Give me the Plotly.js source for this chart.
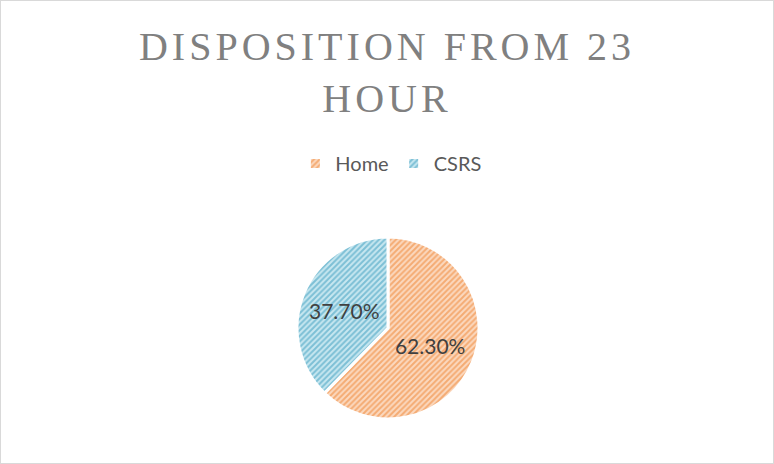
<!DOCTYPE html>
<html>
<head>
<meta charset="utf-8">
<script src="https://cdn.plot.ly/plotly-3.0.1.min.js"></script>
<style>
  html, body { margin: 0; padding: 0; background: #fff; }
  #chart { width: 772px; height: 462px; border: 1px solid #d9d9d9; }
  #chart .gtitle { letter-spacing: 4px; }
</style>
</head>
<body>
<div id="chart"></div>
<script>
const categories = ['Home', 'CSRS'];
const values = [62.3, 37.7];
const fgColors = ['#EE7E28', '#3197BA'];
const bgColors = ['#FBD9BF', '#C8E7F0'];

const W = 772, H = 462;
const cx = 387, cy = 327, r = 91;

const trace = {
  type: 'pie',
  labels: categories,
  values: values,
  sort: false,
  direction: 'clockwise',
  rotation: 0,
  texttemplate: '%{percent:.2%}',
  textposition: 'inside',
  insidetextorientation: 'horizontal',
  textfont: { family: 'Lato, "Open Sans", sans-serif', size: 21, color: '#404040' },
  hoverinfo: 'label+percent',
  marker: {
    colors: bgColors,
    line: { color: '#ffffff', width: 3 },
    pattern: {
      shape: ['/', '/'],
      fgcolor: fgColors,
      bgcolor: bgColors,
      size: 4,
      solidity: 0.5,
      fillmode: 'overlay'
    }
  },
  domain: {
    x: [(cx - r) / W, (cx + r) / W],
    y: [(H - (cy + r)) / H, (H - (cy - r)) / H]
  }
};

const layout = {
  width: W,
  height: H,
  margin: { l: 0, r: 0, t: 0, b: 0 },
  paper_bgcolor: '#ffffff',
  title: {
    text: 'DISPOSITION FROM 23<br>HOUR',
    font: { family: '"Liberation Serif", "DejaVu Serif", serif', size: 40, color: '#808080' },
    x: 0.5,
    xanchor: 'center',
    y: 0.872,
    yanchor: 'top'
  },
  showlegend: true,
  legend: {
    orientation: 'h',
    x: 0.505,
    xanchor: 'center',
    y: 0.648,
    yanchor: 'middle',
    font: { family: 'Lato, "Open Sans", sans-serif', size: 20, color: '#595959' },
    itemwidth: 30
  }
};

Plotly.newPlot('chart', [trace], layout, { displayModeBar: false, staticPlot: true });
</script>
</body>
</html>
